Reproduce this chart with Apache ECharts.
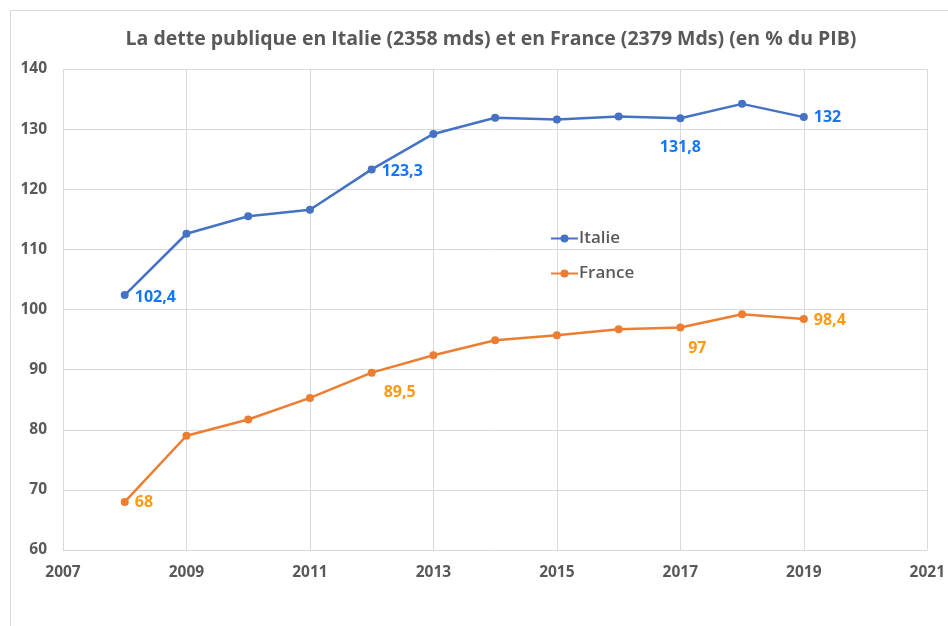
<!DOCTYPE html>
<html>
<head>
<meta charset="utf-8">
<script src="https://cdn.jsdelivr.net/npm/echarts@6/dist/echarts.min.js"></script>
<style>
  html, body { margin: 0; padding: 0; background: #fff; }
  #chart { width: 948px; height: 626px; }
</style>
</head>
<body>
<div id="chart"></div>
<script>
const years = [2008, 2009, 2010, 2011, 2012, 2013, 2014, 2015, 2016, 2017, 2018, 2019]
const italie = [102.4, 112.6, 115.5, 116.6, 123.3, 129.2, 131.9, 131.6, 132.1, 131.8, 134.2, 132]
const france = [68, 79, 81.7, 85.3, 89.5, 92.4, 94.9, 95.7, 96.7, 97, 99.2, 98.4]
// which points carry a value label
const italieLabelled = [2008, 2012, 2017, 2019]
const franceLabelled = [2008, 2012, 2017, 2019]

const fmt = v => String(v).replace('.', ',')

function points(values, labelled, labelColor, place) {
    return years.map((y, i) => {
        const p = { value: [y, values[i]] }
        if (labelled.indexOf(y) >= 0) {
            p.label = Object.assign({
                show: true,
                color: labelColor,
                fontSize: 16,
                fontWeight: 'bold',
                fontFamily: 'Open Sans',
                formatter: d => fmt(d.value[1])
            }, place[y])
        }
        return p
    })
}

let myChart = echarts.init(document.getElementById('chart'))
myChart.setOption({
    animation: false,
    title: {
        text: 'La dette publique en Italie (2358 mds) et en France (2379 Mds) (en % du PIB)',
        left: 486,
        textAlign: 'center',
        top: 24,
        textStyle: {
            color: '#595959',
            fontSize: 19.5,
            fontWeight: 'bold',
            fontFamily: 'Open Sans'
        }
    },
    graphic: [{
        type: 'rect',
        shape: { x: 10.5, y: 10.5, width: 960, height: 640 },
        style: { fill: 'none', stroke: '#d9d9d9', lineWidth: 1 },
        silent: true
    }],
    legend: {
        orient: 'vertical',
        left: 545,
        top: 225,
        itemWidth: 27,
        itemHeight: 10,
        itemGap: 18,
        textStyle: { color: '#595959', fontSize: 17, fontWeight: 600, fontFamily: 'Open Sans', padding: [0, 0, 0, -4] },
        data: ['Italie', 'France']
    },
    grid: { left: 63, right: 18, top: 69, bottom: 76 },
    xAxis: {
        type: 'value',
        min: 2007,
        max: 2021,
        interval: 2,
        axisLine: { show: false },
        axisTick: { show: false },
        splitLine: { lineStyle: { color: '#d9d9d9', width: 1 } },
        axisLabel: {
            color: '#595959', fontSize: 15.5, fontWeight: 'bold', fontFamily: 'Open Sans', margin: 15,
            formatter: v => String(v)
        }
    },
    yAxis: {
        type: 'value',
        min: 60,
        max: 140,
        interval: 10,
        axisLine: { show: false },
        axisTick: { show: false },
        splitLine: { lineStyle: { color: '#d9d9d9', width: 1 } },
        axisLabel: { color: '#595959', fontSize: 15.5, fontWeight: 'bold', fontFamily: 'Open Sans', margin: 16 }
    },
    series: [
        {
            name: 'Italie',
            type: 'line',
            symbol: 'circle',
            symbolSize: 8,
            color: '#4472C4',
            lineStyle: { width: 2.5 },
            data: points(italie, italieLabelled, '#1677f6', {
                2008: { position: 'right', distance: 6, offset: [0, 2] },
                2012: { position: 'right', distance: 6, offset: [0, 2] },
                2017: { position: 'bottom', distance: 17 },
                2019: { position: 'right', distance: 6 }
            })
        },
        {
            name: 'France',
            type: 'line',
            symbol: 'circle',
            symbolSize: 8,
            color: '#ED7D31',
            lineStyle: { width: 2.5 },
            data: points(france, franceLabelled, '#ff9a10', {
                2008: { position: 'right', distance: 6, offset: [0, 1] },
                2012: { position: 'right', distance: 6, offset: [2, 20] },
                2017: { position: 'bottom', distance: 9, offset: [17, 0] },
                2019: { position: 'right', distance: 6, offset: [0, 1] }
            })
        }
    ]
})
window.addEventListener('resize', function() {
    myChart.resize()
})
</script>
</body>
</html>
